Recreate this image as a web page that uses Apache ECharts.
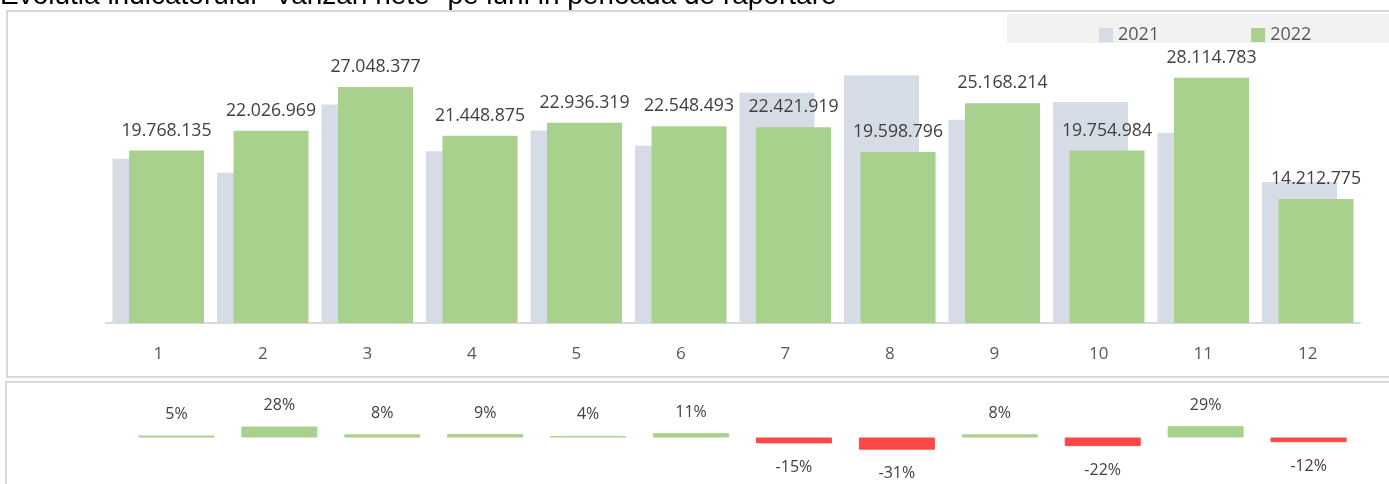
<!DOCTYPE html>
<html>
<head>
<meta charset="utf-8">
<script src="https://cdn.jsdelivr.net/npm/echarts@6/dist/echarts.min.js"></script>
<style>
html,body{margin:0;padding:0;background:#fff;}
#chart{width:1389px;height:484px;}
</style>
</head>
<body>
<div id="chart"></div>
<script>
const months = ['1','2','3','4','5','6','7','8','9','10','11','12'];
const sales2021 = [18830000, 17210000, 25040000, 19680000, 22050000, 20310000, 26380000, 28400000, 23300000, 25330000, 21790000, 16150000];
const sales2022 = [19768135, 22026969, 27048377, 21448875, 22936319, 22548493, 22421919, 19598796, 25168214, 19754984, 28114783, 14212775];
const changePct = [5, 28, 8, 9, 4, 11, -15, -31, 8, -22, 29, -12];
const seriesNames = ['2021', '2022'];
const titleText = 'Evolutia indicatorului "Vanzari nete" pe luni in perioada de raportare';

const FONT = '"Open Sans", sans-serif';
function fmt(v){ return String(v).replace(/\B(?=(\d{3})+(?!\d))/g, '.'); }

const chart = echarts.init(document.getElementById('chart'));
const pctData = changePct.map(v => {
  const c = v >= 0 ? '#a9d18e' : '#ff4747';
  return {
    value: v,
    itemStyle: { color: c, borderColor: c, borderWidth: 1 },
    label: { position: v >= 0 ? 'top' : 'bottom', distance: v >= 0 ? 13 : 16 }
  };
});

chart.setOption({
  animation: false,
  textStyle: { fontFamily: FONT },
  graphic: [
    { type: 'rect', shape: { x: 7, y: 11, width: 1400, height: 366 }, style: { fill: 'none', stroke: '#d9d9d9', lineWidth: 2 }, z: -10 },
    { type: 'rect', shape: { x: 6, y: 382, width: 1400, height: 120 }, style: { fill: 'none', stroke: '#d9d9d9', lineWidth: 2 }, z: -10 },
    { type: 'rect', shape: { x: 1007, y: 14, width: 400, height: 29 }, style: { fill: '#f2f2f2' }, z: -5 },
    { type: 'text', x: 0, y: -4, style: { text: titleText, font: '28px "Liberation Sans", Arial, sans-serif', fill: '#000', textVerticalAlign: 'middle' } }
  ],
  legend: {
    data: seriesNames,
    left: 1094, top: 21,
    itemWidth: 14, itemHeight: 14, itemGap: 92,
    icon: 'rect',
    textStyle: { fontSize: 18, color: '#595959', fontFamily: FONT }
  },
  grid: [
    { left: 106, right: 29, top: 35, height: 288 },
    { left: 125, right: 29, top: 414, height: 47 }
  ],
  xAxis: [
    { type: 'category', data: months, gridIndex: 0,
      axisLine: { lineStyle: { color: '#d9d9d9', width: 2 } },
      axisTick: { show: false },
      axisLabel: { margin: 23, fontSize: 17, color: '#595959', fontFamily: FONT } },
    { type: 'category', data: months, gridIndex: 1, show: false }
  ],
  yAxis: [
    { type: 'value', gridIndex: 0, min: 0, max: 33000000, show: false, splitLine: { show: false } },
    { type: 'value', gridIndex: 1, min: -60, max: 60, show: false, splitLine: { show: false } }
  ],
  series: [
    { name: seriesNames[0], type: 'bar', xAxisIndex: 0, yAxisIndex: 0, data: sales2021,
      barWidth: 75, barGap: '-78%', itemStyle: { color: '#d6dce5' } },
    { name: seriesNames[1], type: 'bar', xAxisIndex: 0, yAxisIndex: 0, data: sales2022,
      barWidth: 75, itemStyle: { color: '#a9d18e' },
      label: { show: true, position: 'top', distance: 11, fontSize: 17.7, color: '#404040', fontFamily: FONT,
        formatter: p => fmt(p.value) } },
    { name: 'var', type: 'bar', xAxisIndex: 1, yAxisIndex: 1, data: pctData, barWidth: 76,
      label: { show: true, fontSize: 16, color: '#404040', fontFamily: FONT, formatter: p => p.value + '%' } }
  ]
});
</script>
</body>
</html>
